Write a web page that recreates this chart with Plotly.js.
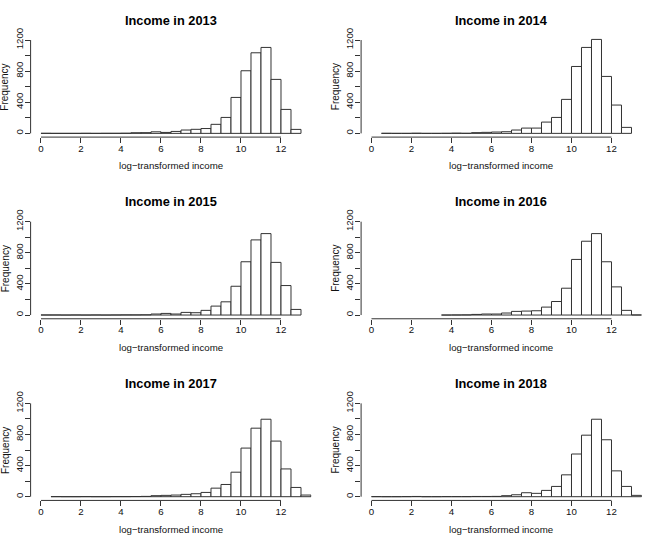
<!DOCTYPE html>
<html>
<head>
<meta charset="utf-8">
<script src="https://cdn.plot.ly/plotly-3.0.1.min.js"></script>
<style>html,body{margin:0;padding:0;background:#fff;}#chart{width:661px;height:545px;}</style>
</head>
<body>
<div id="chart"></div>
<script>
// Left edges of the histogram bins (width 0.5)
const binLeft = [0,0.5,1,1.5,2,2.5,3,3.5,4,4.5,5,5.5,6,6.5,7,7.5,8,8.5,9,9.5,10,10.5,11,11.5,12,12.5,13];
const binWidth = 0.5;

// Frequencies per bin (null = bin not present in that year's histogram)
const counts2013 = [1,0,0,0,1,0,1,1,2,8,9,20,12,25,43,52,62,116,205,462,805,1036,1105,694,308,51,null];
const counts2014 = [null,1,0,0,2,0,0,1,3,1,9,13,17,21,43,68,68,145,205,437,860,1105,1208,732,364,77,null];
const counts2015 = [1,1,0,1,0,1,0,1,2,2,3,13,21,13,34,30,60,115,170,370,685,966,1047,677,379,72,null];
const counts2016 = [null,null,null,null,null,null,null,0,1,2,8,13,13,26,47,51,55,102,174,345,715,949,1047,685,362,60,1];
const counts2017 = [null,1,0,0,1,0,0,1,1,2,4,13,17,21,30,38,55,110,157,315,625,881,996,715,357,119,21];
const counts2018 = [1,0,0,1,3,0,0,1,1,1,3,3,4,13,25,51,43,81,132,281,549,791,996,732,332,132,17];

const years = ["2013","2014","2015","2016","2017","2018"];
const allCounts = [counts2013,counts2014,counts2015,counts2016,counts2017,counts2018];

const titlePrefix = "Income in ";
const xLabel = "log\u2212transformed income";
const yLabel = "Frequency";

const xTickVals = [0,2,4,6,8,10,12];
const yTickVals = [0,400,800,1200];

const FONT = "Liberation Sans, Arial, Helvetica, sans-serif";
const xDomains = [[0.04629,0.47110],[0.54629,0.97110]];
const yDomains = [[0.74844,0.93339],[0.41510,0.60006],[0.08178,0.26673]];

const data = [];
const layout = {
  width: 661, height: 545,
  margin: {l:0,r:0,t:0,b:0},
  paper_bgcolor: "#fff", plot_bgcolor: "#fff",
  showlegend: false,
  font: {family: FONT, size: 9.5, color: "#000"},
  annotations: [], shapes: []
};

allCounts.forEach((c, i) => {
  const row = Math.floor(i/2), col = i % 2;
  const sfx = i === 0 ? "" : String(i+1);
  const xa = "x" + sfx, ya = "y" + sfx;
  data.push({
    type: "bar", x: binLeft, y: c, offset: 0, width: binWidth,
    xaxis: xa, yaxis: ya,
    marker: {color: "#fff", line: {color: "#333", width: 1}},
    hoverinfo: "x+y"
  });
  layout["xaxis" + sfx] = {
    domain: xDomains[col], anchor: ya, range: [-0.52, 13.52],
    tickmode: "array", tickvals: xTickVals, ticktext: xTickVals.map(String),
    ticks: "outside", ticklen: 5, tickwidth: 1, tickcolor: "#333",
    ticklabelstandoff: -3,
    showgrid: false, zeroline: false, showline: false,
    tickfont: {family: FONT, size: 9.7, color: "#111"}
  };
  layout["yaxis" + sfx] = {
    domain: yDomains[row], anchor: xa, range: [-48, 1248],
    tickmode: "array", tickvals: yTickVals, ticktext: yTickVals.map(String),
    tickangle: -90,
    ticks: "outside", ticklen: 5, tickwidth: 1, tickcolor: "#333",
    ticklabelstandoff: -2,
    minor: {tickmode: "linear", tick0: 0, dtick: 200, ticks: "outside", ticklen: 5, tickwidth: 1, tickcolor: "#333", showgrid: false},
    showgrid: false, zeroline: false, showline: false,
    tickfont: {family: FONT, size: 9.7, color: "#111"}
  };
  // R-style axis lines spanning first to last tick
  layout.shapes.push({type: "line", xref: xa, yref: ya + " domain",
    x0: xTickVals[0], x1: xTickVals[xTickVals.length-1], y0: 0, y1: 0,
    line: {color: "#333", width: 1}});
  layout.shapes.push({type: "line", xref: xa + " domain", yref: ya,
    x0: 0, x1: 0, y0: yTickVals[0], y1: yTickVals[yTickVals.length-1],
    line: {color: "#333", width: 1}});
  // title
  layout.annotations.push({text: "<b>" + titlePrefix + years[i] + "</b>",
    xref: xa + " domain", yref: ya + " domain", x: 0.5, y: 1, yshift: 16,
    xanchor: "center", yanchor: "middle", showarrow: false,
    font: {family: FONT, size: 12.8, color: "#000"}});
  // x label
  layout.annotations.push({text: xLabel,
    xref: xa + " domain", yref: ya + " domain", x: 0.5, y: 0, yshift: -28.6,
    xanchor: "center", yanchor: "middle", showarrow: false,
    font: {family: FONT, size: 9.7, color: "#111"}});
  // y label
  layout.annotations.push({text: yLabel, textangle: -90,
    xref: xa + " domain", yref: ya + " domain", x: 0, y: 0.5, xshift: -25.6,
    xanchor: "center", yanchor: "middle", showarrow: false,
    font: {family: FONT, size: 10, color: "#111"}});
});

Plotly.newPlot("chart", data, layout, {staticPlot: true, displayModeBar: false});
</script>
</body>
</html>
